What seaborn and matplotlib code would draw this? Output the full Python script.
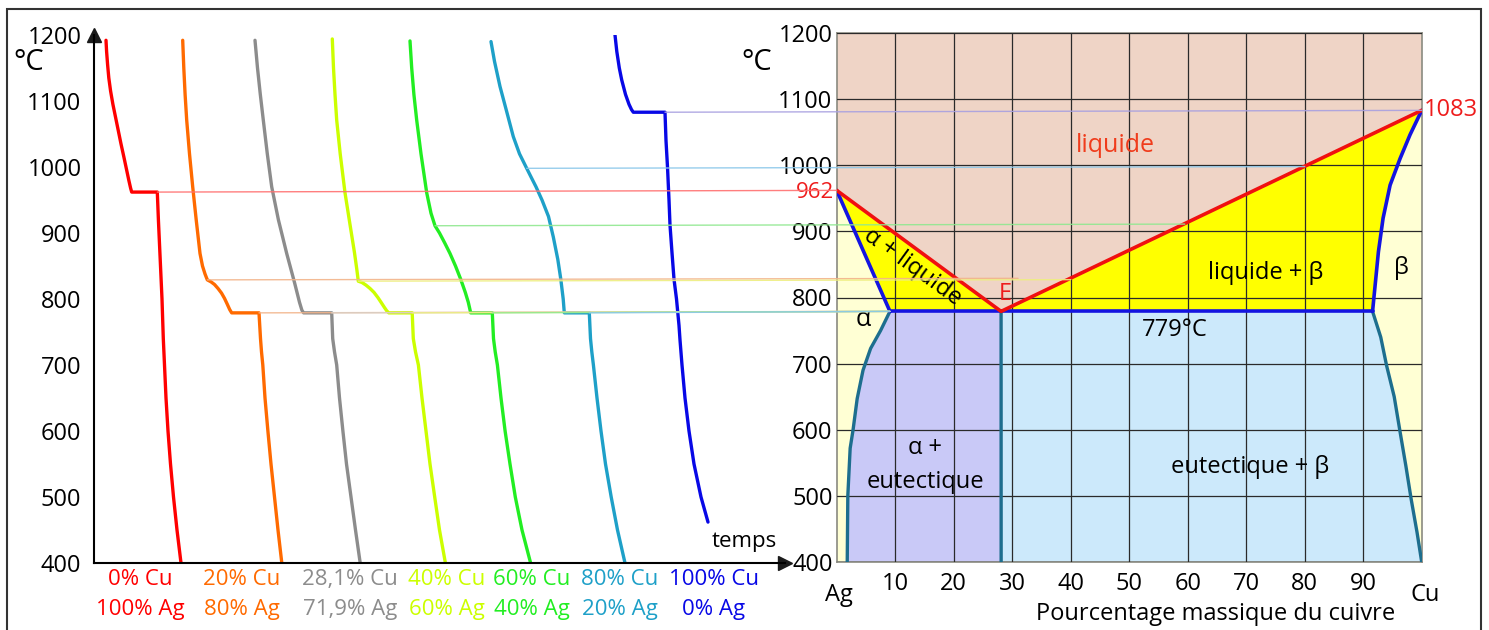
import numpy as np
import matplotlib.pyplot as plt
import seaborn as sns
from matplotlib.patches import ConnectionPatch, Rectangle

# courbes de refroidissement : temps (unites arbitraires) et temperature (degC)
t_0cu = [12, 12.6, 13.6, 14.8, 16.6, 18.9, 21.6, 24.3, 27, 29.9, 32.7, 34.8, 36.6, 37.7,
         63.3, 64.4, 65.6, 66.8, 68, 69.3, 70.5, 72, 74, 76.5, 79.5, 83, 87]
T_0cu = [1192, 1175, 1155, 1135, 1115, 1095, 1075, 1055, 1035, 1015, 995, 980, 968, 962,
         962, 920, 880, 840, 800, 740, 700, 650, 600, 550, 500, 450, 400]
t_20cu = [88.7, 89.8, 91.1, 92.7, 95.5, 98.7, 102.2, 106, 108.5, 111, 113.3,
          117, 120.5, 124, 127.5, 130.5, 133.3, 135.7, 137.7,
          165, 166.5, 167.5, 168.8, 171, 173.9, 177, 180.5, 184, 187.8]
T_20cu = [1192, 1150, 1110, 1071, 1020, 970, 920, 869, 850, 838, 829,
          826, 822, 816, 809, 801, 792, 784, 779,
          779, 740, 720, 700, 650, 600, 550, 500, 450, 400]
t_28cu = [161, 163.5, 166.3, 169.3, 173.3, 177.7, 184.4, 192.7, 200.5, 205.5, 207.9, 209.6,
          237.7, 238.7, 240.5, 242.7, 245.5, 248.9, 252.5, 257, 261.5, 266.2]
T_28cu = [1192, 1150, 1110, 1071, 1020, 970, 920, 869, 825, 795, 783, 779,
          779, 740, 720, 700, 650, 600, 550, 500, 450, 400]
t_40cu = [238.3, 239.5, 241, 242.7, 246.2, 251, 256.3, 260.5, 262.8, 264.3,
          268, 272, 276, 280, 284, 287.5, 290.5, 292.8, 294.8,
          318.2, 319.3, 321.5, 324.4, 328, 332, 336, 340.7, 345.5, 351.4]
T_40cu = [1194, 1150, 1110, 1071, 1020, 961, 910, 870, 845, 827,
          825, 821, 816, 810, 802, 794, 787, 782, 779,
          779, 740, 720, 700, 650, 600, 550, 500, 450, 400]
t_60cu = [316, 317.7, 319.9, 322.7, 327, 332.7, 337, 341,
          345.5, 350.7, 356, 361.5, 366.7, 371.3, 374.3, 376.7,
          398.3, 399.5, 401.2, 403.4, 407, 411.1, 416, 421.3, 428, 436.6]
T_60cu = [1191, 1150, 1110, 1071, 1020, 961, 930, 911,
          900, 885, 869, 850, 830, 810, 795, 779,
          779, 740, 720, 700, 650, 600, 550, 500, 450, 400]
t_80cu = [397, 400.5, 406, 412.5, 419.3, 425.5, 432.7,
          437, 442, 448, 454.5, 459.3, 463.8, 466.8, 469.2, 470.3,
          495.3, 496.5, 497.8, 499.4, 503, 507, 511.5, 517.2, 523.5, 531]
T_80cu = [1190, 1160, 1122, 1085, 1046, 1020, 998,
          985, 970, 950, 925, 894, 860, 830, 800, 779,
          779, 740, 720, 700, 650, 600, 550, 500, 450, 400]
t_100cu = [521, 522.8, 525.3, 527.7, 531.5, 535, 537.5, 539.3,
           571, 572, 573.5, 575, 576, 578, 580, 582.5, 585, 586, 588, 591, 595, 600, 607, 614]
T_100cu = [1200, 1175, 1150, 1132, 1110, 1095, 1087, 1083,
           1083, 1040, 1000, 950, 912, 870, 830, 800, 760, 738, 700, 650, 600, 550, 500, 462]

noms_cu = ['0% Cu', '20% Cu', '28,1% Cu', '40% Cu', '60% Cu', '80% Cu', '100% Cu']
noms_ag = ['100% Ag', '80% Ag', '71,9% Ag', '60% Ag', '40% Ag', '20% Ag', '0% Ag']
couleurs = ['#ff0000', '#ff6a00', '#8c8c8c', '#ccff00', '#22ee22', '#1ea0c8', '#0808e6']
# point ou commence la solidification, et composition (% Cu) sur le diagramme
i_debut = [14, 10, 11, 9, 7, 6, 8]
x_debut = [0, 31, 28.1, 40, 59.5, 80, 100]
# fin du palier eutectique (779 degC)
i_palier = [None, 19, 12, 19, 16, 16, None]

# diagramme de phases Ag-Cu (% massique de Cu, degC)
liq_x = [0, 28.1, 100]
liq_T = [962, 779, 1083]
sol_a_x = [0, 9.1]
sol_a_T = [962, 779]
solv_a_x = [9.1, 7.5, 5.8, 4.5, 3.5, 2.8, 2.3, 1.9, 1.8]
solv_a_T = [779, 750, 723, 690, 647, 600, 572, 500, 400]
sol_b_x = [91.6, 92.6, 93.4, 94.6, 96.3, 98, 100]
sol_b_T = [779, 869, 920, 970, 1010, 1046, 1083]
solv_b_x = [91.6, 93, 94, 95.3, 96.3, 97.3, 98.2, 99.2, 100]
solv_b_T = [779, 740, 697, 650, 597, 545, 495, 445, 400]
x_eut = 28.1
T_eut = 779

courbes = [(t_0cu, T_0cu), (t_20cu, T_20cu), (t_28cu, T_28cu), (t_40cu, T_40cu),
           (t_60cu, T_60cu), (t_80cu, T_80cu), (t_100cu, T_100cu)]

sns.set_theme(style='white')
plt.rcParams['font.family'] = ['Open Sans', 'DejaVu Sans']
plt.rcParams['text.color'] = 'black'
plt.rcParams['xtick.color'] = 'black'
plt.rcParams['ytick.color'] = 'black'

W, H = 1489, 630
fig = plt.figure(figsize=(W / 100, H / 100), dpi=100)
ax1 = fig.add_axes([94 / W, 67 / H, 691 / W, 528 / H])
ax2 = fig.add_axes([836.7 / W, 68 / H, 585 / W, 529 / H])

# ---- courbes de refroidissement
for (t, T), c in zip(courbes, couleurs):
    sns.lineplot(x=t, y=T, ax=ax1, color=c, lw=2.4, sort=False, estimator=None)
ax1.set_xlim(0, 691)
ax1.set_ylim(400, 1200)
ax1.set_xticks([])
ax1.set_yticks(range(400, 1201, 100))
ax1.tick_params(axis='y', length=0, pad=9, labelsize=17, labelcolor='black')
for s in ['top', 'right']:
    ax1.spines[s].set_visible(False)
for s in ['left', 'bottom']:
    ax1.spines[s].set_color('black')
    ax1.spines[s].set_linewidth(1.5)
ax1.plot(1, 0, '>k', ms=10, transform=ax1.transAxes, clip_on=False)
ax1.plot(0, 1, '^k', ms=10, transform=ax1.transAxes, clip_on=False)
ax1.set_xlabel('')
ax1.set_ylabel('')
ax1.text(-0.094, 0.934, '°C', transform=ax1.transAxes, fontsize=21, ha='center', va='baseline')
ax1.text(650, 432, 'temps', fontsize=16, ha='center', va='center')

lab_x = [46, 148, 256, 353, 438, 526, 620]
for x, n1, n2, c in zip(lab_x, noms_cu, noms_ag, couleurs):
    ax1.text(x, -0.032, n1, color=c, fontsize=16, ha='center', va='center',
             transform=ax1.get_xaxis_transform())
    ax1.text(x, -0.089, n2, color=c, fontsize=16, ha='center', va='center',
             transform=ax1.get_xaxis_transform())

# ---- diagramme de phases
ax2.set_facecolor('#ffffd4')
ax2.fill(liq_x + [100, 0], liq_T + [1200, 1200], color='#efd4c6', lw=0)
ax2.fill([0, x_eut, sol_a_x[1]], [liq_T[0], T_eut, T_eut], color='#ffff00', lw=0)
ax2.fill([x_eut, 100] + sol_b_x[::-1][1:], [T_eut, 1083] + sol_b_T[::-1][1:], color='#ffff00', lw=0)
ax2.fill(solv_a_x + [x_eut, x_eut], solv_a_T + [400, T_eut], color='#c9c9f7', lw=0)
ax2.fill([x_eut, x_eut] + solv_b_x[::-1], [T_eut, 400] + solv_b_T[::-1], color='#cce9fb', lw=0)

ax2.set_axisbelow(False)
ax2.grid(True, color='#2a2a2a', lw=0.9)
ax2.set_xlim(0, 100)
ax2.set_ylim(400, 1200)
ax2.set_xticks(range(10, 100, 10))
ax2.set_yticks(range(400, 1201, 100))
ax2.tick_params(length=0, labelsize=17, labelcolor='black')
ax2.tick_params(axis='x', pad=7)
ax2.tick_params(axis='y', pad=3)
for s in ax2.spines.values():
    s.set_color('#8a8a80')
    s.set_linewidth(1.2)

teal = '#1d6e8e'
sns.lineplot(x=solv_a_x, y=solv_a_T, ax=ax2, color=teal, lw=2.4, sort=False, estimator=None, zorder=3)
sns.lineplot(x=solv_b_x, y=solv_b_T, ax=ax2, color=teal, lw=2.4, sort=False, estimator=None, zorder=3)
sns.lineplot(x=[x_eut, x_eut + 0.01], y=[T_eut, 400], ax=ax2, color=teal, lw=2.4, sort=False,
             estimator=None, zorder=3)
sns.lineplot(x=sol_a_x, y=sol_a_T, ax=ax2, color='#1414e0', lw=2.6, sort=False, estimator=None, zorder=4)
sns.lineplot(x=sol_b_x, y=sol_b_T, ax=ax2, color='#1414e0', lw=2.6, sort=False, estimator=None, zorder=4)
sns.lineplot(x=[sol_a_x[1], sol_b_x[0]], y=[T_eut, T_eut], ax=ax2, color='#1414e0', lw=2.6,
             sort=False, estimator=None, zorder=4)
sns.lineplot(x=liq_x, y=liq_T, ax=ax2, color='#f01010', lw=2.6, sort=False, estimator=None, zorder=5)
ax2.set_xlabel('')
ax2.set_ylabel('')

rouge = '#ee1c1c'
ax2.text(-0.136, 0.930, '°C', transform=ax2.transAxes, fontsize=21, ha='center', va='baseline')
ax2.text(-0.4, liq_T[0] - 12, '962', color=rouge, fontsize=16, ha='right', va='baseline')
ax2.text(100.4, liq_T[2], '1083', color=rouge, fontsize=17, ha='left', va='center')
ax2.text(47.7, 1030, 'liquide', color='#f03c1c', fontsize=18, ha='center', va='center')
ax2.text(28.8, 805, 'E', color=rouge, fontsize=17, ha='center', va='center')
ax2.text(13, 846, 'α + liquide', fontsize=17, rotation=-36, ha='center', va='center',
         rotation_mode='anchor')
ax2.text(73.3, 837, 'liquide + β', fontsize=17, ha='center', va='center')
ax2.text(96.5, 845, 'β', fontsize=17, ha='center', va='center')
ax2.text(4.5, 766, 'α', fontsize=18, ha='center', va='center')
ax2.text(57.8, 751, '779°C', fontsize=17, ha='center', va='center')
ax2.text(15.1, 572, 'α +', fontsize=17, ha='center', va='center')
ax2.text(15.1, 521, 'eutectique', fontsize=17, ha='center', va='center')
ax2.text(70.7, 543, 'eutectique + β', fontsize=17, ha='center', va='center')
ax2.text(0.3, -0.062, 'Ag', transform=ax2.get_xaxis_transform(), fontsize=17, ha='center', va='center')
ax2.text(100.6, -0.062, 'Cu', transform=ax2.get_xaxis_transform(), fontsize=17, ha='center', va='center')
ax2.text(64.7, -0.098, 'Pourcentage massique du cuivre', transform=ax2.get_xaxis_transform(),
         fontsize=17, ha='center', va='center')

# ---- traits de correspondance entre courbes et diagramme
clairs = ['#ff7070', '#f2b48a', '#d8d0c8', '#eeee80', '#90e890', '#8cc8ea', '#a8a0e0']
for k, ((t, T), c) in enumerate(zip(courbes, clairs)):
    if k != 2:
        i = i_debut[k]
        fig.add_artist(ConnectionPatch(xyA=(t[i], T[i]), coordsA=ax1.transData,
                                       xyB=(x_debut[k], T[i]), coordsB=ax2.transData,
                                       color=c, lw=1.0, alpha=0.9))
    j = i_palier[k]
    if j is not None:
        fig.add_artist(ConnectionPatch(xyA=(t[j], T[j]), coordsA=ax1.transData,
                                       xyB=(sol_a_x[1], T[j]), coordsB=ax2.transData,
                                       color=c, lw=1.0, alpha=0.9))

# cadre
fig.add_artist(Rectangle((7 / W, -0.01), 1474 / W, 1 - 9 / H + 0.01, transform=fig.transFigure,
                         fill=False, edgecolor='#333333', lw=1.5))

fig.savefig('out.png', dpi=100)
